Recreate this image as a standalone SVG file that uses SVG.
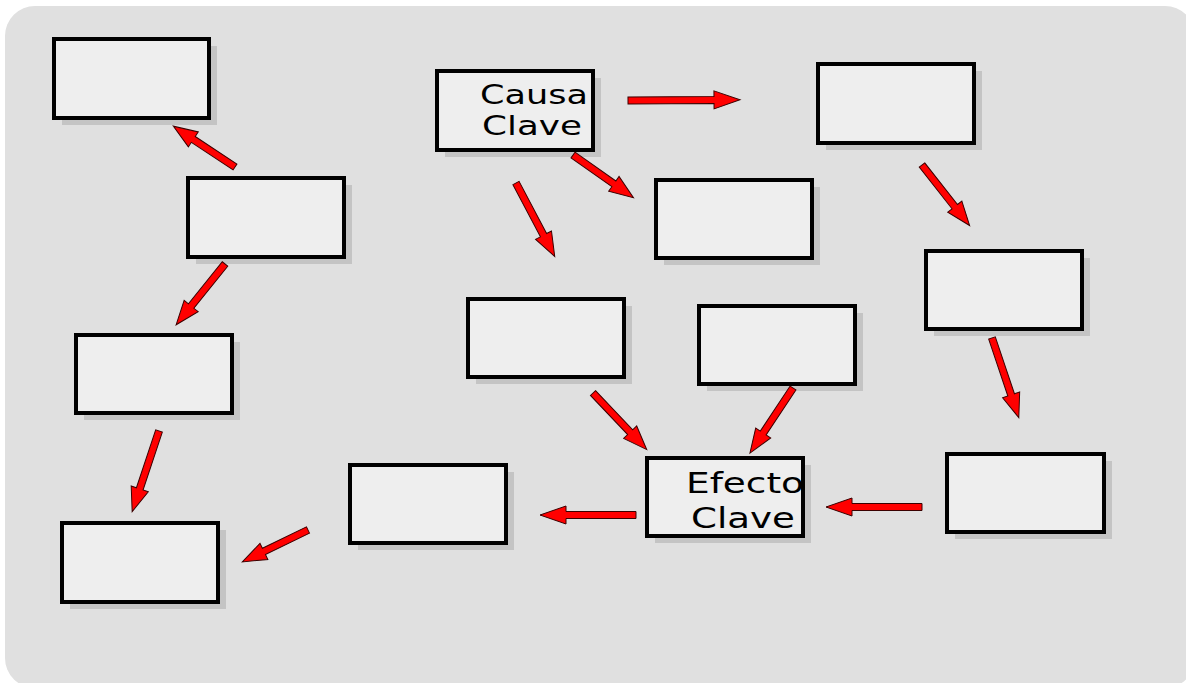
<svg xmlns="http://www.w3.org/2000/svg" width="1186" height="683" viewBox="0 0 1186 683">
  <defs>
    <style>
      .shadow { fill: #c4c4c4; }
      .fill { fill: #eeeeee; }
      .frame { fill: none; stroke: #000; stroke-width: 4; }
      .label { font-family: "DejaVu Sans", sans-serif; fill: #000; }
      .arrow { fill: #ff0000; stroke: #3a0000; stroke-width: 1; stroke-linejoin: miter; }
    </style>
  </defs>

  <!-- backdrop panel -->
  <rect x="5" y="6" width="1190" height="682" rx="30" ry="30" fill="#e0e0e0"/>

  <!-- boxes -->
  <g id="box1"><rect class="shadow" x="62" y="46" width="155" height="79"/><rect class="fill" x="54" y="39" width="155" height="79"/><rect class="frame" x="54" y="39" width="155" height="79"/></g>
  <g id="box2"><rect class="shadow" x="196" y="185" width="156" height="79"/><rect class="fill" x="188" y="178" width="156" height="79"/><rect class="frame" x="188" y="178" width="156" height="79"/></g>
  <g id="box3"><rect class="shadow" x="84" y="342" width="156" height="78"/><rect class="fill" x="76" y="335" width="156" height="78"/><rect class="frame" x="76" y="335" width="156" height="78"/></g>
  <g id="box4"><rect class="shadow" x="70" y="530" width="156" height="79"/><rect class="fill" x="62" y="523" width="156" height="79"/><rect class="frame" x="62" y="523" width="156" height="79"/></g>
  <g id="causa-clave">
    <rect class="shadow" x="445" y="78" width="156" height="79"/>
    <rect class="fill" x="437" y="71" width="156" height="79"/>
    <text class="label" x="480" y="104" font-size="27" textLength="108" lengthAdjust="spacingAndGlyphs">Causa</text>
    <text class="label" x="482" y="135" font-size="27" textLength="100" lengthAdjust="spacingAndGlyphs">Clave</text>
    <rect class="frame" x="437" y="71" width="156" height="79"/>
  </g>
  <g id="box6"><rect class="shadow" x="826" y="71" width="156" height="79"/><rect class="fill" x="818" y="64" width="156" height="79"/><rect class="frame" x="818" y="64" width="156" height="79"/></g>
  <g id="box7"><rect class="shadow" x="664" y="187" width="156" height="78"/><rect class="fill" x="656" y="180" width="156" height="78"/><rect class="frame" x="656" y="180" width="156" height="78"/></g>
  <g id="box8"><rect class="shadow" x="934" y="258" width="156" height="78"/><rect class="fill" x="926" y="251" width="156" height="78"/><rect class="frame" x="926" y="251" width="156" height="78"/></g>
  <g id="box9"><rect class="shadow" x="476" y="306" width="156" height="78"/><rect class="fill" x="468" y="299" width="156" height="78"/><rect class="frame" x="468" y="299" width="156" height="78"/></g>
  <g id="box10"><rect class="shadow" x="707" y="313" width="156" height="78"/><rect class="fill" x="699" y="306" width="156" height="78"/><rect class="frame" x="699" y="306" width="156" height="78"/></g>
  <g id="efecto-clave">
    <rect class="shadow" x="655" y="465" width="156" height="78"/>
    <rect class="fill" x="647" y="458" width="156" height="78"/>
    <text class="label" x="686" y="493" font-size="29" textLength="118" lengthAdjust="spacingAndGlyphs">Efecto</text>
    <text class="label" x="691" y="528" font-size="29" textLength="104" lengthAdjust="spacingAndGlyphs">Clave</text>
    <rect class="frame" x="647" y="458" width="156" height="78"/>
  </g>
  <g id="box12"><rect class="shadow" x="358" y="472" width="156" height="78"/><rect class="fill" x="350" y="465" width="156" height="78"/><rect class="frame" x="350" y="465" width="156" height="78"/></g>
  <g id="box13"><rect class="shadow" x="955" y="461" width="157" height="78"/><rect class="fill" x="947" y="454" width="157" height="78"/><rect class="frame" x="947" y="454" width="157" height="78"/></g>

  <!-- connectors: block arrows drawn along +x, then placed -->
  <g id="connectors">
    <path class="arrow" transform="translate(235,167) rotate(213.5)" d="M0,-3.5 H50 V-9 L74,0 L50,9 V3.5 H0 Z"/>
    <path class="arrow" transform="translate(225,264) rotate(128.8)" d="M0,-3.5 H54 V-9 L78,0 L54,9 V3.5 H0 Z"/>
    <path class="arrow" transform="translate(159,431) rotate(108.4)" d="M0,-3.5 H61 V-9 L85,0 L61,9 V3.5 H0 Z"/>
    <path class="arrow" transform="translate(308,530) rotate(154.1)" d="M0,-3.5 H49 V-9 L73,0 L49,9 V3.5 H0 Z"/>
    <path class="arrow" transform="translate(628,100.5) rotate(-0.4)" d="M0,-3.5 H86 V-9 L112,0 L86,9 V3.5 H0 Z"/>
    <path class="arrow" transform="translate(573,155) rotate(35.2)" d="M0,-3.5 H50 V-9 L74,0 L50,9 V3.5 H0 Z"/>
    <path class="arrow" transform="translate(516,183) rotate(62.2)" d="M0,-3.5 H59 V-9 L83,0 L59,9 V3.5 H0 Z"/>
    <path class="arrow" transform="translate(922,165) rotate(51.8)" d="M0,-3.5 H53 V-9 L77,0 L53,9 V3.5 H0 Z"/>
    <path class="arrow" transform="translate(992,338) rotate(71.4)" d="M0,-3.5 H60 V-9 L84,0 L60,9 V3.5 H0 Z"/>
    <path class="arrow" transform="translate(922,507) rotate(180)" d="M0,-3.5 H70 V-9 L96,0 L70,9 V3.5 H0 Z"/>
    <path class="arrow" transform="translate(636,515) rotate(180)" d="M0,-3.5 H70 V-9 L96,0 L70,9 V3.5 H0 Z"/>
    <path class="arrow" transform="translate(593,393) rotate(46.5)" d="M0,-3.5 H54 V-9 L78,0 L54,9 V3.5 H0 Z"/>
    <path class="arrow" transform="translate(793,388) rotate(123.5)" d="M0,-3.5 H54 V-9 L78,0 L54,9 V3.5 H0 Z"/>
  </g>
</svg>
